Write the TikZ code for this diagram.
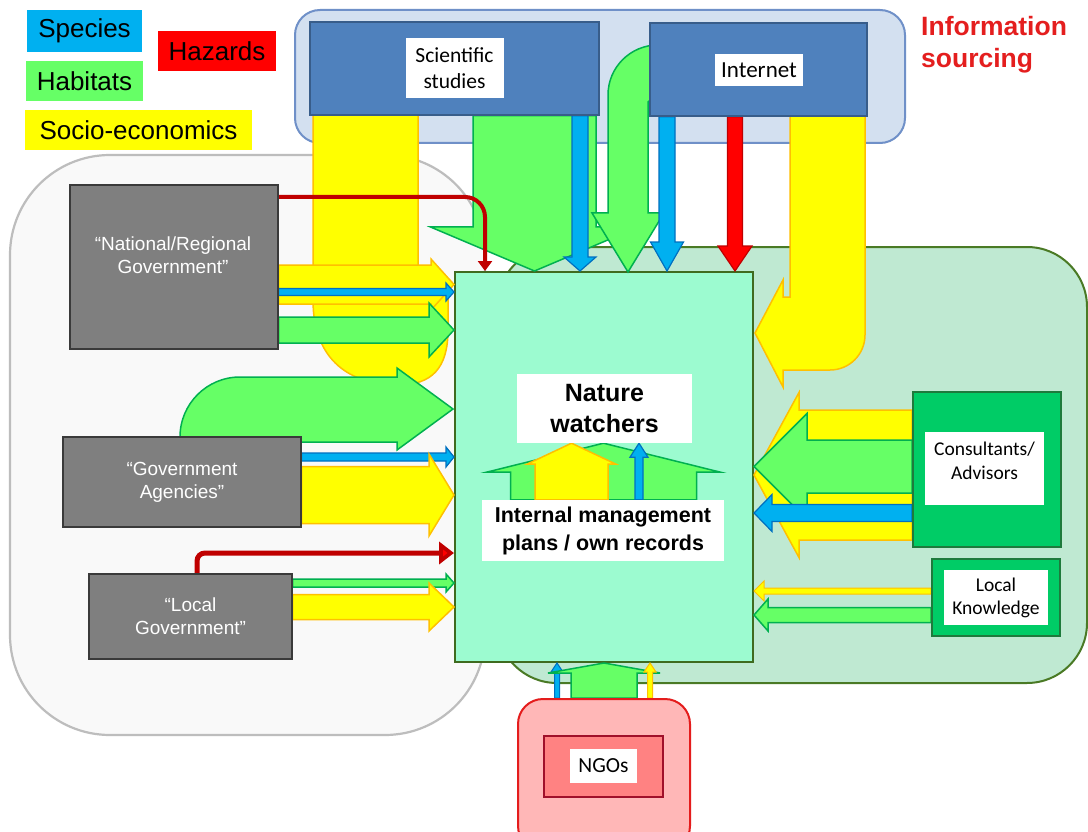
\documentclass[tikz,border=0pt]{standalone}
\usepackage{fontspec}
\setmainfont{Liberation Sans}
\newfontfamily\calfont{Carlito}
\usetikzlibrary{calc,arrows.meta}

\definecolor{cYel}{HTML}{FFFF00}
\definecolor{cYelBd}{HTML}{FFC000}
\definecolor{cGrn}{HTML}{66FF66}
\definecolor{cGrnBd}{HTML}{00B050}
\definecolor{cBlu}{HTML}{00B0F0}
\definecolor{cBluBd}{HTML}{0070C0}
\definecolor{cRed}{HTML}{FF0000}
\definecolor{cRedBd}{HTML}{C00000}
\definecolor{cInfo}{HTML}{E41E1E}
\definecolor{cSrcBg}{HTML}{D3E0F0}
\definecolor{cSrcBd}{HTML}{6F90C8}
\definecolor{cSrc}{HTML}{4F81BD}
\definecolor{cSrcLine}{HTML}{385D8A}
\definecolor{cGov}{HTML}{7F7F7F}
\definecolor{cGovBd}{HTML}{3A3A3A}
\definecolor{cGovBg}{HTML}{F9F9F9}
\definecolor{cGovBgBd}{HTML}{BDBDBD}
\definecolor{cAdvBg}{HTML}{BFE9D2}
\definecolor{cAdvBd}{HTML}{4A7A25}
\definecolor{cNat}{HTML}{9CFBD0}
\definecolor{cNatBd}{HTML}{3F6B1F}
\definecolor{cCons}{HTML}{00CC66}
\definecolor{cConsBd}{HTML}{1E7A3C}
\definecolor{cNgoL}{HTML}{FFB7B7}
\definecolor{cNgoBd}{HTML}{E41C1C}
\definecolor{cNgo}{HTML}{FF8282}
\definecolor{cNgoIn}{HTML}{A0102A}

\pgfdeclarelayer{bg}
\pgfdeclarelayer{flow}
\pgfsetlayers{bg,flow,main}

% block arrow: [style]{from}{to}{half body}{half head}{head length}
\newcommand\blockarrow[6][]{%
  \coordinate (ba-s) at #2;
  \coordinate (ba-e) at #3;
  \coordinate (ba-h) at ($(ba-e)!#6!(ba-s)$);
  \filldraw[#1] ($(ba-s)!#4!90:(ba-e)$) -- ($(ba-h)!#4!90:(ba-e)$)
    -- ($(ba-h)!#5!90:(ba-e)$) -- (ba-e) -- ($(ba-h)!#5!-90:(ba-e)$)
    -- ($(ba-h)!#4!-90:(ba-e)$) -- ($(ba-s)!#4!-90:(ba-e)$) -- cycle;}

\begin{document}
\begin{tikzpicture}[x=1pt,y=-1pt,
  legendbox/.style={inner sep=0pt, minimum height=40pt, text=black,
    font=\fontsize{26pt}{30pt}\selectfont},
  govbox/.style={draw=cGovBd, fill=cGov, line width=1.2pt, inner sep=0pt,
    text=white, align=center, font=\fontsize{19pt}{23pt}\selectfont},
  srcbox/.style={draw=cSrcLine, fill=cSrc, line width=1.5pt, inner sep=0pt},
  whitebox/.style={fill=white, inner sep=0pt, align=center, text=black},
  yelarrow/.style={fill=cYel, draw=cYelBd, line width=1.5pt, line join=miter},
  grnarrow/.style={fill=cGrn, draw=cGrnBd, line width=1.5pt, line join=miter},
  bluarrow/.style={fill=cBlu, draw=cBluBd, line width=1.2pt, line join=miter},
  redarrow/.style={fill=cRed, draw=cRedBd, line width=1.2pt, line join=miter},
  hazline/.style={draw=cRedBd, line cap=butt}]

\useasboundingbox (0,0) rectangle (1088,832);
\clip (0,0) rectangle (1088,832);

% ---------- background groups and the central box ----------
\begin{pgfonlayer}{bg}
  \fill[white] (0,0) rectangle (1088,832);
  \node[draw=cSrcBd, fill=cSrcBg, line width=2pt, rounded corners=25pt,
    minimum width=610pt, minimum height=133pt] (srcbg) at (600,76.5) {};
  \node[draw=cGovBgBd, fill=cGovBg, line width=2.2pt, rounded corners=100pt,
    minimum width=475pt, minimum height=580pt] (govbg) at (247.5,445) {};
  \node[draw=cAdvBd, fill=cAdvBg, line width=2pt, rounded corners=60pt,
    minimum width=590pt, minimum height=436pt] (advbg) at (792,465) {};
  \node[draw=cNatBd, fill=cNat, line width=2pt,
    minimum width=298pt, minimum height=390pt] (nw) at (604,467) {};
\end{pgfonlayer}

% ---------- legend ----------
\node[legendbox, fill=cBlu, minimum width=115pt, minimum height=42pt] (lspec) at (84.5,31) {Species};
\node[legendbox, fill=cRed, minimum width=118pt] (lhaz) at (217,51) {Hazards};
\node[legendbox, fill=cGrn, minimum width=117pt] (lhab) at (84.5,81) {Habitats};
\node[legendbox, fill=cYel, minimum width=227pt] (lsoc) at (138.5,130) {Socio-economics};

\node[anchor=north west, align=left, inner sep=0pt, text=cInfo,
  font=\bfseries\fontsize{26.5pt}{32pt}\selectfont] (info) at (921,16) {Information\\sourcing};

% ---------- source boxes ----------
\node[srcbox, minimum width=289pt, minimum height=93pt] (sci) at (454.5,68.5) {};
\node[whitebox, minimum width=98pt, minimum height=60pt,
  font=\calfont\fontsize{21.5pt}{26pt}\selectfont] (scit) at (454.5,68) {Scientific\\studies};
\node[srcbox, minimum width=217pt, minimum height=93pt] (inet) at (758.5,69.5) {};
\node[whitebox, minimum width=88pt, minimum height=32pt,
  font=\calfont\fontsize{23pt}{26pt}\selectfont] (inett) at (759,70) {Internet};

% ---------- government boxes ----------
\node[govbox, minimum width=208pt, minimum height=164pt] (ngov) at (174,267) {};
\node[inner sep=0pt, text=white, align=center,
  font=\fontsize{19pt}{23pt}\selectfont] (ngovt) at (173,255) {“National/Regional\\Government”};
\node[govbox, minimum width=238pt, minimum height=90pt] (gag) at (182,482) {“Government\\Agencies”};
\node[govbox, minimum width=203pt, minimum height=85pt] (lgov) at (190.5,616.5) {“Local\\Government”};

% ---------- advisors ----------
\node[draw=cConsBd, fill=cCons, line width=2pt, minimum width=148pt, minimum height=155pt] (cons) at (987,469) {};
\node[whitebox, minimum width=119pt, minimum height=73pt] (const) at (984.5,468.5) {};
\node[inner sep=0pt, align=center, font=\calfont\fontsize{19.5pt}{24pt}\selectfont] at (984.5,461) {Consultants/\\Advisors};
\node[draw=cConsBd, fill=cCons, line width=2pt, minimum width=128pt, minimum height=77pt] (lk) at (996,597.5) {};
\node[whitebox, minimum width=104pt, minimum height=55pt,
  font=\calfont\fontsize{19.5pt}{23pt}\selectfont] (lkt) at (996,597.5) {Local\\Knowledge};

% ---------- NGOs ----------
\node[draw=cNgoBd, fill=cNgoL, line width=2pt, rounded corners=25pt,
  minimum width=172pt, minimum height=152pt] (ngo) at (604,775) {};
\node[draw=cNgoIn, fill=cNgo, line width=2pt, minimum width=119pt, minimum height=61pt] (ngoin) at (603.5,766.5) {};
\node[whitebox, minimum width=67pt, minimum height=34pt,
  font=\calfont\fontsize{21.5pt}{25pt}\selectfont] (ngot) at (603.5,766) {NGOs};

% ---------- inside the central box ----------
\node[whitebox, minimum width=175pt, minimum height=69pt,
  font=\bfseries\fontsize{25pt}{31pt}\selectfont] (natw) at (604.5,408.5) {Nature\\watchers};
\node[whitebox, minimum width=242pt, minimum height=61pt,
  font=\bfseries\fontsize{21.5pt}{28pt}\selectfont] (intm) at (603,530.5) {Internal management\\plans / own records};

% ---------- flows ----------
\begin{pgfonlayer}{flow}
  % socio-economic loop from scientific studies
  \filldraw[yelarrow] (313,110) -- (313,300) .. controls (313,362) and (352,385) .. (398,385)
    .. controls (432,385) and (448,368) .. (448,330) -- (448,285) -- (418,285) -- (418,110) -- cycle;

  % national / regional government
  \blockarrow[yelarrow]{(ngov.east |- 0,284.5)}{(nw.west |- 0,284.5)}{19.5pt}{25.5pt}{23pt}
  \blockarrow[bluarrow]{(ngov.east |- 0,292)}{(nw.west |- 0,292)}{3.5pt}{9pt}{8pt}
  \blockarrow[grnarrow]{(ngov.east |- 0,330)}{(nw.west |- 0,330)}{13pt}{27pt}{25pt}

  % habitat loop rising from the agencies
  \filldraw[grnarrow] (180,470) -- (180,437) arc[start angle=180, end angle=270, radius=60]
    -- (397,377) -- (397,368) -- (453,409) -- (397,450) -- (397,442) -- (250,442) -- (250,470) -- cycle;

  % government agencies
  \blockarrow[bluarrow]{(gag.east |- 0,457)}{(nw.west |- 0,457)}{4pt}{10pt}{8pt}
  \blockarrow[yelarrow]{(gag.east |- 0,495)}{(nw.west |- 0,495)}{28.5pt}{41pt}{25pt}

  % local government
  \blockarrow[grnarrow]{(lgov.east |- 0,583)}{(nw.west |- 0,583)}{4pt}{9pt}{8pt}
  \blockarrow[yelarrow]{(lgov.east |- 0,607)}{(nw.west |- 0,607)}{12.5pt}{24pt}{25pt}
  \draw[hazline, line width=5pt, rounded corners=8pt,
    -{Triangle[length=15pt,width=22pt,fill=cRed]}]
    ([xshift=6.5pt]lgov.north) |- (nw.west |- 0,553);

  % scientific studies
  \blockarrow[grnarrow]{(sci.south -| 534.5,0)}{(nw.north -| 534.5,0)}{61.5pt}{104pt}{44pt}
  \blockarrow[bluarrow]{(sci.south -| 580,0)}{(nw.north -| 580,0)}{8pt}{16pt}{14pt}

  % internet
  \filldraw[grnarrow] (608,213) -- (608,95) arc[start angle=180, end angle=270, radius=50]
    -- (680,45) -- (680,92) -- (660,92) -- (648,102) -- (648,213) -- (664,213) -- (628,272)
    -- (592,213) -- cycle;
  \blockarrow[bluarrow]{(inet.south -| 667,0)}{(nw.north -| 667,0)}{8pt}{16.5pt}{29pt}
  \blockarrow[redarrow]{(inet.south -| 735,0)}{(nw.north -| 735,0)}{7.5pt}{17pt}{25pt}
  \filldraw[yelarrow] (790,110) -- (790,297) -- (783,297) -- (783,280) -- (755,333) -- (783,387)
    -- (783,370) -- (830,370) arc[start angle=90, end angle=0, radius=35] -- (865,110) -- cycle;

  % hazards reaching the centre from national level
  \draw[hazline, line width=4pt, rounded corners=20pt,
    -{Triangle[length=10pt,width=14pt]}]
    (ngov.east |- 0,197) -| (nw.north -| 485,0);

  % consultants / advisors
  \blockarrow[yelarrow]{(cons.west |- 0,475)}{(nw.east |- 0,475)}{65pt}{82.5pt}{45pt}
  \blockarrow[grnarrow]{(cons.west |- 0,466.5)}{(nw.east |- 0,466.5)}{26.5pt}{53pt}{53pt}
  \blockarrow[bluarrow]{(cons.west |- 0,513)}{(nw.east |- 0,513)}{8.5pt}{18.5pt}{18pt}

  % local knowledge
  \blockarrow[yelarrow, line width=1pt]{(lk.west |- 0,591)}{(nw.east |- 0,591)}{3pt}{10pt}{10pt}
  \blockarrow[grnarrow]{(lk.west |- 0,615)}{(nw.east |- 0,615)}{7.5pt}{16pt}{14pt}

  % NGOs
  \blockarrow[bluarrow, line width=1pt]{(ngo.north -| 557,0)}{(nw.south -| 557,0)}{2.5pt}{6pt}{9pt}
  \blockarrow[grnarrow]{(ngo.north -| 604,0)}{(nw.south -| 604,0)}{33pt}{56pt}{10pt}
  \blockarrow[yelarrow, line width=1pt]{(ngo.north -| 650,0)}{(nw.south -| 650,0)}{2.5pt}{6pt}{9pt}

  % own records feeding the nature watchers
  \blockarrow[grnarrow]{(intm.north -| 603.5,0)}{(natw.south -| 603.5,0)}{93pt}{117pt}{29pt}
  \blockarrow[yelarrow]{(intm.north -| 571.5,0)}{(natw.south -| 571.5,0)}{36.5pt}{44.5pt}{21pt}
  \blockarrow[bluarrow]{(intm.north -| 639,0)}{(natw.south -| 639,0)}{4pt}{9pt}{14pt}
\end{pgfonlayer}
\end{tikzpicture}
\end{document}
